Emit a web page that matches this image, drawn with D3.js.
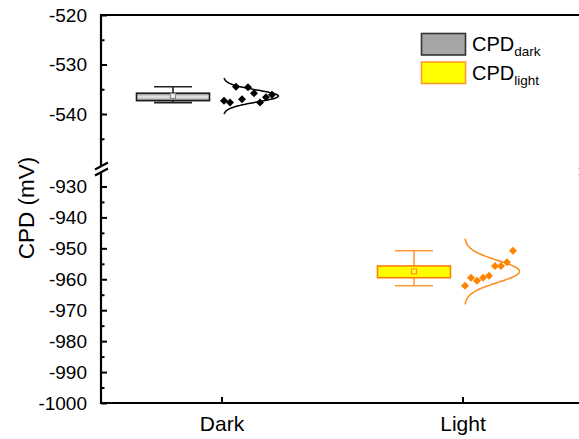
<!DOCTYPE html>
<html>
<head>
<meta charset="utf-8">
<script src="https://cdn.jsdelivr.net/npm/d3@7"></script>
<style>
  html, body { margin: 0; padding: 0; background: #fff; }
  svg { display: block; }
  text { font-family: "Liberation Sans", Arial, sans-serif; fill: #000; }
</style>
</head>
<body>
<svg id="chart" width="579" height="439"></svg>
<script>
// Surface potential (CPD) measured in the dark and under illumination
const categories = ["Dark", "Light"];
const darkValues  = [-537.3, -537.7, -534.5, -537.0, -534.6, -535.8, -537.7, -536.6, -536.1];
const lightValues = [-962.1, -959.5, -960.5, -959.5, -958.9, -955.7, -955.7, -954.5, -950.8];
const upperTicks = [-520, -530, -540];
const upperMinor = [-525, -535, -545];
const lowerTicks = [-930, -940, -950, -960, -970, -980, -990, -1000];
const lowerMinor = [-935, -945, -955, -965, -975, -985, -995];
const legendLabels = [["CPD", "dark"], ["CPD", "light"]];

const svg = d3.select("#chart");

const plotLeft = 101, plotRight = 585, plotTop = 15, plotBottom = 403;
const breakTop = 163.5, breakBottom = 171;

// broken y axis: two linear segments
const yUpper = d3.scaleLinear().domain([-550, -520]).range([breakTop, plotTop]);
const yLower = d3.scaleLinear().domain([-1000, -925]).range([plotBottom, breakBottom]);
const y = v => (v > -700 ? yUpper(v) : yLower(v));

const x = d3.scalePoint().domain(categories).range([plotLeft, plotRight - 2]).padding(0.5);

const styles = {
  Dark:  { values: darkValues,  box: "url(#grayGrad)", boxStroke: "#1a1a1a", whisker: "#222",
           point: "#000", curve: "#000", meanFill: "#f4f4f4", meanStroke: "#8a8a8a" },
  Light: { values: lightValues, box: "#ffff00", boxStroke: "#ff8000", whisker: "#ff9a3c",
           point: "#ff8400", curve: "#ff8a1a", meanFill: "#ffff30", meanStroke: "#ff9520" }
};

// gradient for the dark box
const defs = svg.append("defs");
const g1 = defs.append("linearGradient").attr("id", "grayGrad")
  .attr("x1", 0).attr("y1", 0).attr("x2", 0).attr("y2", 1);
g1.append("stop").attr("offset", "0%").attr("stop-color", "#8a8a8a");
g1.append("stop").attr("offset", "50%").attr("stop-color", "#ececec");
g1.append("stop").attr("offset", "100%").attr("stop-color", "#8a8a8a");

// frame lines
svg.append("line").attr("x1", plotLeft).attr("x2", plotRight + 2).attr("y1", plotTop).attr("y2", plotTop)
  .attr("stroke", "#000").attr("stroke-width", 2);
svg.append("line").attr("x1", plotLeft - 1).attr("x2", plotRight + 2).attr("y1", plotBottom).attr("y2", plotBottom)
  .attr("stroke", "#000").attr("stroke-width", 2.2);
[plotLeft, plotRight].forEach(ax => {
  svg.append("line").attr("x1", ax).attr("x2", ax).attr("y1", plotTop - 1).attr("y2", 166)
    .attr("stroke", "#000").attr("stroke-width", 2.2);
  svg.append("line").attr("x1", ax).attr("x2", ax).attr("y1", 172).attr("y2", plotBottom + 1)
    .attr("stroke", "#000").attr("stroke-width", 2.2);
  // break marks
  [-3, 3].forEach(dy => {
    svg.append("line")
      .attr("x1", ax - 6).attr("y1", 169 + dy + 3.5)
      .attr("x2", ax + 7).attr("y2", 169 + dy - 3.5)
      .attr("stroke", "#000").attr("stroke-width", 2.2);
  });
});

// y ticks (inward)
function yAxis(scale, major, minor) {
  svg.append("g").attr("transform", `translate(${plotLeft},0)`)
    .call(d3.axisLeft(scale).tickValues(major).tickSize(-6).tickPadding(14)
      .tickFormat(d => String(d)))
    .call(g => g.select(".domain").remove())
    .call(g => g.selectAll(".tick line").attr("stroke", "#000").attr("stroke-width", 2))
    .call(g => g.selectAll(".tick text").attr("font-size", 19)
      .style("font-family", "'Liberation Sans', Arial, sans-serif"));
  svg.append("g").attr("transform", `translate(${plotLeft},0)`)
    .call(d3.axisLeft(scale).tickValues(minor).tickSize(-3.5).tickFormat(""))
    .call(g => g.select(".domain").remove())
    .call(g => g.selectAll(".tick line").attr("stroke", "#000").attr("stroke-width", 2));
}
yAxis(yUpper, upperTicks, upperMinor);
yAxis(yLower, lowerTicks, lowerMinor);

// x ticks
svg.append("g").attr("transform", `translate(0,${plotBottom})`)
  .call(d3.axisBottom(x).tickSize(-6).tickPadding(13))
  .call(g => g.select(".domain").remove())
  .call(g => g.selectAll(".tick line").attr("stroke", "#000").attr("stroke-width", 2))
  .call(g => g.selectAll(".tick text").attr("font-size", 21)
    .style("font-family", "'Liberation Sans', Arial, sans-serif"));

// axis title
svg.append("text")
  .attr("transform", "translate(34,208) rotate(-90)")
  .attr("text-anchor", "middle")
  .attr("font-size", 22.5)
  .text("CPD (mV)");

// box plots with data overlap and distribution curve
const boxOffset = -48.5, boxW = 73, capW = 38;
const pointStart = 2.5, pointStep = 6, curveWidth = 55;
const diamond = d3.symbol().type(d3.symbolSquare).size(32);

categories.forEach(cat => {
  const s = styles[cat];
  const vals = s.values;
  const sorted = vals.slice().sort(d3.ascending);
  const q1 = d3.quantile(sorted, 0.25), q3 = d3.quantile(sorted, 0.75);
  const lo = d3.min(vals), hi = d3.max(vals), mean = d3.mean(vals), sd = d3.deviation(vals);
  const cx = x(cat) + boxOffset;
  const g = svg.append("g");

  g.append("line").attr("x1", cx).attr("x2", cx).attr("y1", y(hi)).attr("y2", y(lo))
    .attr("stroke", s.whisker).attr("stroke-width", 1.6);
  [hi, lo].forEach(v => g.append("line")
    .attr("x1", cx - capW / 2).attr("x2", cx + capW / 2).attr("y1", y(v)).attr("y2", y(v))
    .attr("stroke", s.whisker).attr("stroke-width", 1.6));
  g.append("rect")
    .attr("x", cx - boxW / 2).attr("width", boxW)
    .attr("y", y(q3)).attr("height", y(q1) - y(q3))
    .attr("fill", s.box).attr("stroke", s.boxStroke).attr("stroke-width", 1.6);
  g.append("rect")
    .attr("x", cx - 2.5).attr("y", y(mean) - 2.5).attr("width", 5).attr("height", 5)
    .attr("fill", s.meanFill).attr("stroke", s.meanStroke).attr("stroke-width", 1.2);

  // normal distribution curve, drawn sideways
  const base = x(cat) + 2;
  const zs = d3.range(-3, 3.0001, 0.05);
  const line = d3.line().x(d => base + curveWidth * Math.exp(-0.5 * d * d))
    .y(d => y(mean + d * sd)).curve(d3.curveBasis);
  g.append("path").attr("d", line(zs)).attr("fill", "none")
    .attr("stroke", s.curve).attr("stroke-width", 1.5);

  // raw data points
  g.selectAll(".pt").data(vals).join("path")
    .attr("transform", (d, i) => `translate(${x(cat) + pointStart + i * pointStep},${y(d)}) rotate(45)`)
    .attr("d", diamond).attr("fill", s.point);
});

// legend
const legendColors = [
  { fill: "#a6a6a6", stroke: "#333" },
  { fill: "#ffff00", stroke: "#ff9a2e" }
];
legendLabels.forEach((lab, i) => {
  const ly = 33.5 + i * 28.5;
  svg.append("rect").attr("x", 421.5).attr("y", ly).attr("width", 44).attr("height", 21.5)
    .attr("fill", legendColors[i].fill).attr("stroke", legendColors[i].stroke).attr("stroke-width", 1.6);
  const t = svg.append("text").attr("x", 472).attr("y", ly + 17.5).attr("font-size", 20);
  t.append("tspan").text(lab[0]);
  t.append("tspan").attr("font-size", 13.5).attr("dy", 5).text(lab[1]);
});
</script>
</body>
</html>
